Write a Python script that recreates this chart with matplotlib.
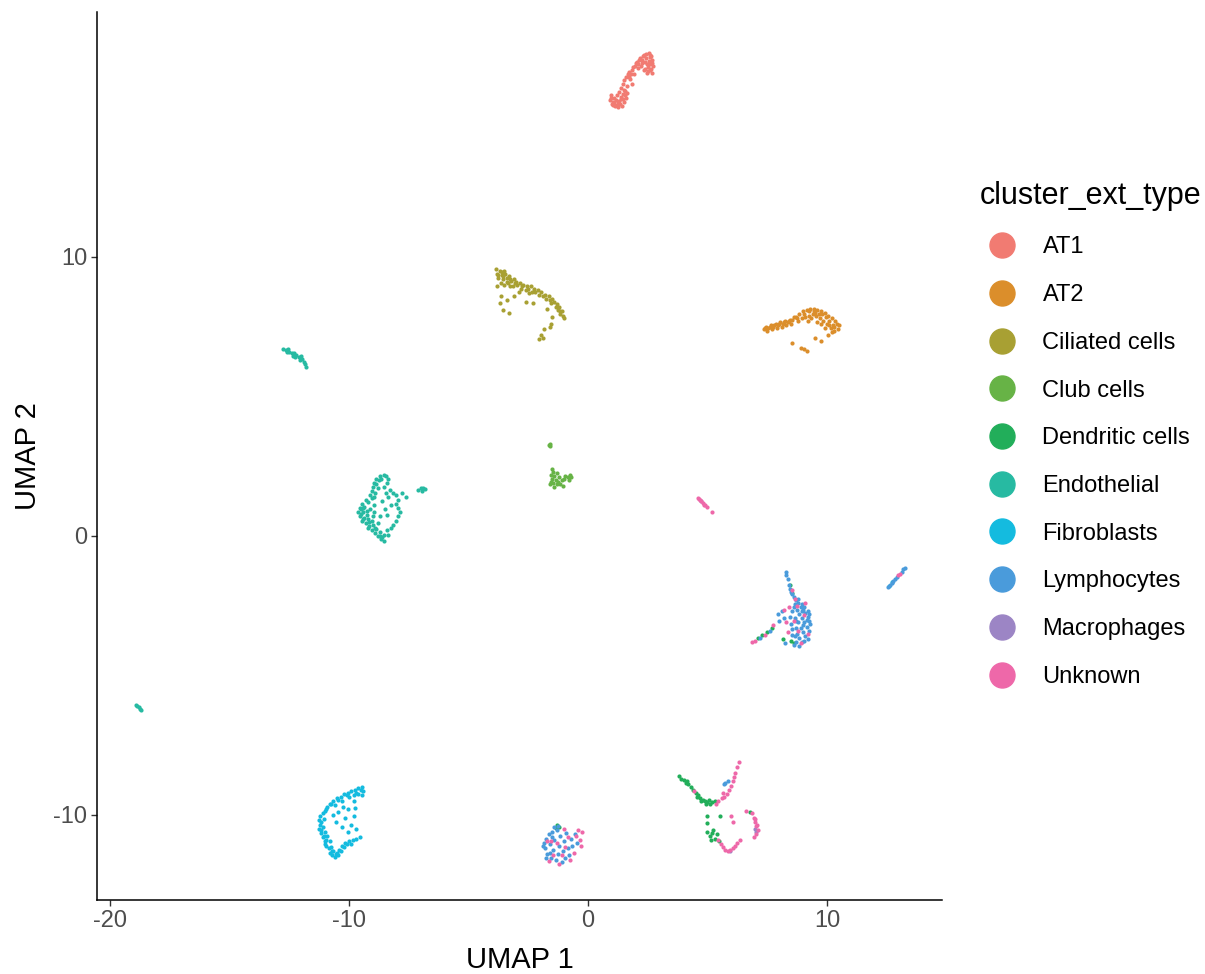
import matplotlib
matplotlib.use('Agg')
import matplotlib.pyplot as plt
from matplotlib.lines import Line2D

# UMAP embedding, one list of (UMAP 1, UMAP 2) per annotated cell type
AT1_PTS = [
    (0.92, 15.63), (1.00, 15.48), (1.13, 15.41), (1.26, 15.38), (1.34, 15.48), (1.09, 15.70),
    (1.21, 15.81), (1.38, 15.66), (1.51, 15.56), (1.59, 15.70), (0.96, 15.81), (1.30, 15.91),
    (1.46, 15.84), (1.63, 15.88), (1.05, 15.56), (1.42, 15.41), (1.17, 15.63), (1.10, 15.50),
    (1.25, 15.55), (1.40, 15.75), (1.55, 15.95), (0.95, 15.70), (1.05, 15.45), (1.20, 15.45),
    (1.30, 15.60), (1.45, 15.65), (1.55, 15.80), (1.50, 16.00),
    (1.38, 16.06), (1.46, 16.20), (1.51, 16.34), (1.59, 16.45), (1.67, 16.56), (1.76, 16.38),
    (1.84, 16.20), (1.63, 16.13), (1.72, 16.63), (1.70, 16.45), (1.80, 16.55),
    (1.84, 16.70), (1.97, 16.85), (2.05, 16.99), (2.18, 17.13), (2.30, 17.20), (2.43, 17.28),
    (2.55, 17.31), (2.64, 17.20), (2.68, 17.06), (2.59, 16.92), (2.51, 16.81), (2.59, 16.70),
    (2.68, 16.59), (2.47, 16.59), (2.34, 16.70), (2.22, 16.85), (2.38, 16.99), (2.26, 17.06),
    (2.09, 16.77), (2.43, 17.13), (1.92, 16.56), (2.55, 17.03), (2.72, 16.85), (2.00, 16.95),
    (2.35, 17.25), (2.60, 17.15), (2.50, 16.65), (2.65, 16.75), (2.10, 16.90), (2.25, 16.95),
    (2.45, 16.90), (2.60, 17.25), (2.70, 16.95), (2.40, 16.75), (2.15, 17.05), (1.90, 16.80),
]

AT2_PTS = [
    (7.35, 7.40), (7.45, 7.50), (7.55, 7.45), (7.65, 7.55), (7.75, 7.50), (7.85, 7.60),
    (7.95, 7.55), (8.05, 7.65), (8.15, 7.60), (8.25, 7.70), (8.35, 7.65), (8.45, 7.75),
    (8.55, 7.75), (7.50, 7.35), (7.70, 7.40), (7.90, 7.45), (8.10, 7.50), (8.30, 7.55),
    (8.50, 7.60), (8.62, 7.85), (7.40, 7.45), (7.60, 7.50), (7.80, 7.55), (8.00, 7.60),
    (8.20, 7.65), (8.40, 7.70),
    (8.70, 7.85), (8.85, 7.95), (9.00, 8.05), (9.15, 8.10), (9.30, 8.15), (9.45, 8.15),
    (9.60, 8.10), (9.75, 8.05), (9.90, 8.00), (10.05, 7.90), (10.20, 7.80), (10.35, 7.70),
    (10.50, 7.55), (10.45, 7.40), (10.30, 7.35), (10.15, 7.45), (10.00, 7.60), (9.85, 7.70),
    (9.70, 7.80), (9.55, 7.90), (9.40, 7.95), (9.25, 7.90), (9.10, 7.85), (8.95, 7.80),
    (8.80, 7.70), (9.20, 7.70), (9.60, 7.65), (9.90, 7.45), (10.25, 7.55), (9.50, 8.00),
    (9.80, 7.95), (10.10, 7.70), (10.40, 7.60), (9.35, 7.80), (10.20, 7.30), (9.05, 7.95),
    (9.25, 8.05), (9.45, 8.05), (9.65, 7.95), (9.95, 7.85), (10.30, 7.50), (10.10, 7.55),
    (9.75, 7.60), (8.75, 7.80),
    (8.54, 6.92), (8.90, 6.75), (9.05, 6.70), (9.15, 6.62), (9.50, 7.10), (9.75, 6.98),
    (10.05, 7.20),
]

CILIATED_PTS = [
    (-3.85, 9.55), (-3.80, 9.40), (-3.70, 9.50), (-3.60, 9.35), (-3.75, 9.25), (-3.55, 9.20),
    (-3.45, 9.40), (-3.40, 9.25), (-3.30, 9.30), (-3.20, 9.15), (-3.65, 9.05), (-3.50, 9.00),
    (-3.35, 9.05), (-3.10, 9.20), (-3.00, 9.10), (-3.80, 8.95), (-3.25, 8.95), (-2.95, 9.00),
    (-3.60, 9.45), (-3.40, 9.10), (-3.75, 9.35), (-3.55, 9.30), (-3.25, 9.20), (-3.05, 9.05),
    (-3.50, 9.50), (-3.15, 8.95),
    (-2.85, 9.05), (-2.70, 9.00), (-2.55, 8.95), (-2.40, 8.95), (-2.25, 8.85), (-2.10, 8.80),
    (-1.95, 8.75), (-1.80, 8.65), (-1.65, 8.60), (-1.50, 8.50), (-1.40, 8.40), (-1.30, 8.30),
    (-2.80, 8.85), (-2.60, 8.80), (-2.35, 8.75), (-2.05, 8.65), (-1.75, 8.50), (-1.55, 8.35),
    (-2.90, 8.75), (-2.45, 8.70), (-2.75, 8.95), (-2.50, 8.85), (-2.20, 8.75), (-1.90, 8.60),
    (-1.60, 8.45), (-1.35, 8.20),
    (-1.20, 8.20), (-1.10, 8.05), (-1.05, 7.90), (-1.00, 7.80), (-1.15, 7.95), (-1.25, 8.10),
    (-1.15, 8.05),
    (-3.65, 8.60), (-3.70, 8.35), (-3.55, 8.10), (-3.40, 8.45), (-3.30, 8.00), (-3.10, 8.60),
    (-2.60, 8.40), (-2.30, 8.35), (-1.70, 8.15), (-1.50, 7.85),
    (-1.85, 7.40), (-1.95, 7.20), (-2.05, 7.05), (-1.90, 7.10), (-1.60, 7.50), (-1.55, 7.60),
]

CLUB_PTS = [
    (-1.60, 3.30), (-1.58, 3.22), (-1.62, 3.26),
    (-1.50, 2.40), (-1.45, 2.30), (-1.55, 2.20), (-1.40, 2.15), (-1.50, 2.05), (-1.35, 2.00),
    (-1.45, 1.90), (-1.30, 1.85), (-1.40, 1.75), (-1.25, 1.95), (-1.20, 2.10), (-1.10, 2.00),
    (-1.15, 1.85), (-1.00, 2.05), (-0.95, 2.15), (-0.85, 2.10), (-0.75, 2.20), (-0.70, 2.10),
    (-0.80, 2.00), (-1.05, 1.80), (-1.30, 2.25), (-1.55, 1.95), (-1.60, 1.85),
]

DENDRITIC_PTS = [
    (8.45, -1.75), (8.55, -2.05), (7.70, -3.30), (7.50, -3.45), (7.30, -3.55), (8.50, -3.75),
    (8.60, -3.85), (8.15, -3.70), (7.10, -3.65),
    (-1.30, -10.35), (-1.20, -10.45), (-1.35, -10.48),
    (3.80, -8.60), (3.90, -8.70), (4.00, -8.75), (4.10, -8.85), (4.20, -8.90), (4.30, -9.00),
    (4.40, -9.10), (4.50, -9.20), (4.60, -9.30), (4.70, -9.40), (4.80, -9.45), (4.90, -9.50),
    (5.00, -9.55), (5.10, -9.60), (5.20, -9.55), (5.30, -9.50), (4.55, -9.35), (4.75, -9.50),
    (4.95, -9.60), (4.15, -8.80), (5.05, -9.45),
    (4.98, -10.05), (4.98, -10.30), (5.52, -10.05),
    (5.00, -10.60), (5.10, -10.75), (5.20, -10.65), (5.30, -10.85), (5.40, -10.70),
    (5.15, -10.90), (5.50, -10.95), (5.25, -10.55), (6.80, -9.90),
]

ENDOTHELIAL_PTS = [
    (-12.75, 6.70), (-12.65, 6.65), (-12.55, 6.70), (-12.50, 6.60), (-12.40, 6.55),
    (-12.30, 6.55), (-12.20, 6.50), (-12.35, 6.45), (-12.10, 6.40), (-12.00, 6.45),
    (-11.95, 6.35), (-11.90, 6.25), (-11.85, 6.15), (-11.80, 6.05), (-12.60, 6.58),
    (-12.25, 6.42), (-12.05, 6.30),
    (-18.90, -6.05), (-18.85, -6.10), (-18.80, -6.15), (-18.75, -6.20), (-18.70, -6.25),
    (-8.55, 2.20), (-8.70, 2.15), (-8.85, 2.05), (-8.95, 1.90), (-9.00, 1.75), (-9.05, 1.60),
    (-9.10, 1.45), (-9.30, 1.30), (-9.45, 1.15), (-9.55, 1.00), (-9.60, 0.85), (-9.55, 0.70),
    (-9.45, 0.55), (-9.30, 0.45), (-9.20, 0.30), (-9.05, 0.20), (-8.90, 0.10), (-8.80, 0.00),
    (-8.65, -0.10), (-8.55, -0.20),
    (-8.75, 2.00), (-8.85, 1.85), (-8.80, 1.70), (-8.90, 1.55), (-9.20, 1.20), (-9.35, 1.05),
    (-9.40, 0.85), (-9.35, 0.65), (-9.15, 0.50), (-9.00, 0.40), (-8.85, 0.25), (-8.70, 0.15),
    (-8.55, 0.05), (-9.50, 0.95), (-9.25, 0.75), (-9.10, 0.95), (-9.00, 0.70), (-8.95, 1.10),
    (-9.05, 0.55), (-8.80, 0.45), (-8.95, 0.85), (-9.15, 0.35), (-9.40, 1.00), (-9.50, 0.80),
    (-9.40, 0.60), (-9.25, 0.90), (-9.20, 0.60), (-9.05, 1.35), (-8.95, 1.40), (-8.65, 2.05),
    (-8.90, 0.30), (-8.70, 0.00), (-8.60, -0.05),
    (-8.45, 2.15), (-8.35, 2.05), (-8.40, 1.90), (-8.30, 1.65), (-8.15, 1.55), (-8.05, 1.45),
    (-7.95, 1.30), (-8.05, 1.15), (-7.95, 1.00), (-7.85, 0.85), (-7.95, 0.70), (-8.05, 0.55),
    (-8.15, 0.40), (-8.25, 0.30), (-8.40, 0.20), (-8.35, 0.05),
    (-8.55, 1.75), (-8.45, 1.55), (-8.35, 1.40), (-8.60, 1.25), (-8.50, 0.95), (-8.25, 1.10),
    (-8.70, 0.70), (-8.40, 0.75), (-7.60, 1.40), (-7.80, 1.55),
    (-7.10, 1.65), (-7.00, 1.70), (-6.90, 1.72), (-6.80, 1.68), (-6.95, 1.60),
]

FIBROBLAST_PTS = [
    (-10.80, -9.60), (-10.65, -9.50), (-10.50, -9.40), (-10.35, -9.35), (-10.20, -9.25),
    (-10.05, -9.20), (-9.90, -9.15), (-9.75, -9.10), (-9.60, -9.05), (-9.45, -9.00),
    (-9.40, -9.15), (-9.45, -9.30), (-9.60, -9.25), (-9.80, -9.30), (-10.00, -9.35),
    (-10.30, -9.50), (-10.60, -9.65), (-10.95, -9.80), (-10.75, -9.60), (-10.45, -9.45),
    (-10.10, -9.30), (-9.70, -9.20), (-9.50, -9.10),
    (-10.90, -9.70), (-11.00, -9.85), (-11.10, -9.95), (-11.20, -10.05), (-11.25, -10.20),
    (-11.20, -10.35), (-11.25, -10.50), (-11.15, -10.65), (-11.10, -10.80), (-11.00, -10.95),
    (-10.95, -11.10), (-10.85, -11.20), (-10.80, -11.35), (-10.70, -11.45), (-10.60, -11.50),
    (-11.05, -10.15), (-11.10, -10.45), (-11.00, -10.60), (-10.90, -10.75), (-10.80, -10.95),
    (-10.75, -11.15), (-11.00, -11.05), (-10.65, -11.30), (-11.15, -10.25), (-11.15, -10.55),
    (-11.05, -10.75), (-10.95, -10.90), (-10.70, -11.30), (-10.55, -11.40),
    (-10.50, -11.35), (-10.40, -11.25), (-10.30, -11.10), (-10.15, -11.00), (-10.00, -10.95),
    (-9.85, -10.90), (-9.70, -10.85), (-9.55, -10.80), (-10.45, -11.45), (-10.20, -11.15),
    (-9.90, -11.05), (-10.35, -11.30), (-10.10, -11.05),
    (-9.80, -9.50), (-9.75, -9.75), (-9.80, -10.05), (-10.05, -9.80), (-10.25, -9.70),
    (-10.45, -9.90), (-10.15, -10.10), (-9.90, -10.35), (-10.30, -10.45), (-10.55, -10.25),
    (-10.05, -10.60), (-10.65, -10.00), (-9.70, -10.50),
    (12.60, -1.80), (12.74, -1.66),
]

LYMPHOCYTE_PTS = [
    (12.55, -1.83), (12.62, -1.76), (12.70, -1.69), (12.77, -1.62), (12.84, -1.55),
    (12.91, -1.48), (13.12, -1.28), (13.20, -1.20), (13.26, -1.15),
    (8.28, -1.30), (8.30, -1.40), (8.35, -1.55), (8.40, -1.75), (8.45, -1.90), (8.50, -2.00),
    (8.55, -2.10),
    (8.60, -2.20), (8.70, -2.30), (8.80, -2.40), (8.65, -2.45), (8.90, -2.55), (9.00, -2.65),
    (8.75, -2.65), (8.55, -2.70), (9.10, -2.75), (8.85, -2.80), (9.20, -2.90), (8.95, -2.95),
    (8.65, -2.95), (9.25, -3.05), (9.05, -3.10), (8.80, -3.10), (8.50, -3.15), (9.15, -3.25),
    (8.90, -3.30), (8.70, -3.30), (9.25, -3.40), (9.00, -3.45), (8.75, -3.50), (8.55, -3.55),
    (9.10, -3.60), (8.85, -3.65), (8.95, -3.80), (8.70, -3.80), (8.60, -3.90), (9.05, -3.75),
    (8.45, -2.90), (9.15, -3.00), (8.95, -2.70), (8.85, -3.95), (8.80, -2.25), (8.95, -2.45),
    (9.05, -2.55), (9.20, -2.70), (9.25, -2.80), (9.30, -3.15), (9.20, -3.70), (8.60, -2.55),
    (8.65, -3.60), (9.00, -3.20), (8.70, -3.05), (8.55, -3.35),
    (8.10, -2.70), (7.95, -2.80), (8.20, -2.95), (8.00, -3.05), (7.60, -3.40), (7.20, -3.65),
    (8.25, -3.85),
    (-1.85, -11.00), (-1.80, -11.20), (-1.75, -10.85), (-1.70, -11.40), (-1.65, -10.70),
    (-1.60, -11.05), (-1.55, -11.55), (-1.50, -10.60), (-1.45, -11.25), (-1.40, -10.90),
    (-1.35, -11.60), (-1.30, -10.55), (-1.25, -11.40), (-1.20, -11.10), (-1.15, -10.75),
    (-1.10, -11.70), (-1.05, -11.30), (-1.00, -10.95), (-0.95, -11.55), (-0.90, -10.65),
    (-0.85, -11.20), (-0.80, -11.45), (-0.70, -10.85), (-0.65, -11.10), (-0.55, -10.70),
    (-1.75, -11.55), (-1.60, -11.35), (-1.40, -10.45), (-1.25, -10.40), (-1.50, -10.80),
    (-0.45, -11.00), (-1.90, -11.10),
    (5.75, -8.85), (5.85, -8.80), (5.70, -8.90),
]

MACROPHAGE_PTS = [
    (7.05, -10.60), (7.00, -10.50), (5.95, -11.30), (4.72, 1.24),
]

UNKNOWN_PTS = [
    (4.60, 1.36), (4.70, 1.30), (4.75, 1.25), (4.82, 1.18), (4.90, 1.10), (4.98, 1.04),
    (5.19, 0.86), (4.65, 1.32), (4.85, 1.12),
    (12.98, -1.41), (13.05, -1.35),
    (8.55, -1.95), (8.75, -2.50), (9.05, -2.85), (8.60, -3.05), (9.20, -3.50), (8.80, -3.40),
    (8.35, -3.45), (8.20, -2.65), (7.40, -3.55), (7.00, -3.75), (6.88, -3.80), (8.40, -2.55),
    (8.90, -3.85), (8.65, -2.25), (9.10, -2.40), (7.75, -3.20), (8.30, -3.10),
    (-1.65, -11.65), (-1.45, -11.45), (-1.30, -11.00), (-1.10, -11.45), (-1.00, -10.50),
    (-0.85, -10.80), (-0.75, -11.60), (-0.60, -11.35), (-0.50, -10.75), (-0.35, -10.90),
    (-0.25, -10.60), (-0.30, -11.10), (-1.55, -10.95), (-1.20, -11.75), (-0.95, -11.15),
    (-0.40, -10.55), (-1.70, -10.95),
    (6.30, -8.10), (6.25, -8.30), (6.15, -8.50), (6.10, -8.65), (6.05, -8.80), (6.00, -8.95),
    (5.90, -9.10), (5.80, -9.25), (5.70, -9.35), (5.60, -9.40), (5.45, -9.50), (5.65, -9.20),
    (5.35, -9.60), (4.45, -9.15),
    (6.00, -10.05), (6.05, -10.25), (6.60, -9.85),
    (5.55, -11.05), (5.65, -11.15), (5.75, -11.25), (5.85, -11.30), (5.95, -11.25),
    (6.05, -11.20), (6.15, -11.10), (6.25, -11.00), (6.35, -10.90), (5.45, -10.90),
    (6.85, -9.95), (6.95, -10.10), (7.00, -10.25), (7.05, -10.40), (7.10, -10.55),
    (7.05, -10.70), (6.95, -10.80), (7.00, -10.15), (7.08, -10.35),
]

cell_types = ['AT1', 'AT2', 'Ciliated cells', 'Club cells', 'Dendritic cells',
              'Endothelial', 'Fibroblasts', 'Lymphocytes', 'Macrophages', 'Unknown']
palette = ['#F17B72', '#DB8E2B', '#A8A033', '#67B346', '#22AE5A',
           '#27BAA2', '#14BBDF', '#4A9BDB', '#9C85C5', '#EE68A9']
cell_points = [AT1_PTS, AT2_PTS, CILIATED_PTS, CLUB_PTS, DENDRITIC_PTS,
               ENDOTHELIAL_PTS, FIBROBLAST_PTS, LYMPHOCYTE_PTS, MACROPHAGE_PTS, UNKNOWN_PTS]

plt.rcParams['font.family'] = ['Liberation Sans', 'DejaVu Sans']
plt.rcParams['axes.unicode_minus'] = False

fig = plt.figure(figsize=(12.05, 9.74), dpi=100)
ax = fig.add_axes([0.0805, 0.076, 0.7012, 0.9117])

for name, colour, pts in zip(cell_types, palette, cell_points):
    xs = [p[0] for p in pts]
    ys = [p[1] for p in pts]
    ax.scatter(xs, ys, s=9, color=colour, linewidths=0, label=name)

ax.set_xlim(-20.54, 14.81)
ax.set_ylim(-13.05, 18.78)
ax.set_xticks([-20, -10, 0, 10])
ax.set_yticks([-10, 0, 10])

for side in ['top', 'right']:
    ax.spines[side].set_visible(False)
for side in ['left', 'bottom']:
    ax.spines[side].set_linewidth(1.1)
    ax.spines[side].set_color('black')

ax.tick_params(labelsize=17, labelcolor='#4D4D4D', color='#333333',
               length=4, width=1.0, pad=3)
ax.set_xlabel('UMAP 1', fontsize=21, labelpad=10)
ax.set_ylabel('UMAP 2', fontsize=21, labelpad=8)

handles = [Line2D([], [], marker='o', linestyle='', markersize=18,
                  markerfacecolor=c, markeredgecolor=c) for c in palette]
fig.legend(handles, cell_types, title='cluster_ext_type', loc='upper left',
           bbox_to_anchor=(0.813, 0.8146), frameon=False, fontsize=17,
           title_fontsize=22, labelspacing=1.09, handlelength=1.9,
           handletextpad=0.76, borderpad=0, borderaxespad=0,
           alignment='left')

fig.savefig('out.png', dpi=100)
